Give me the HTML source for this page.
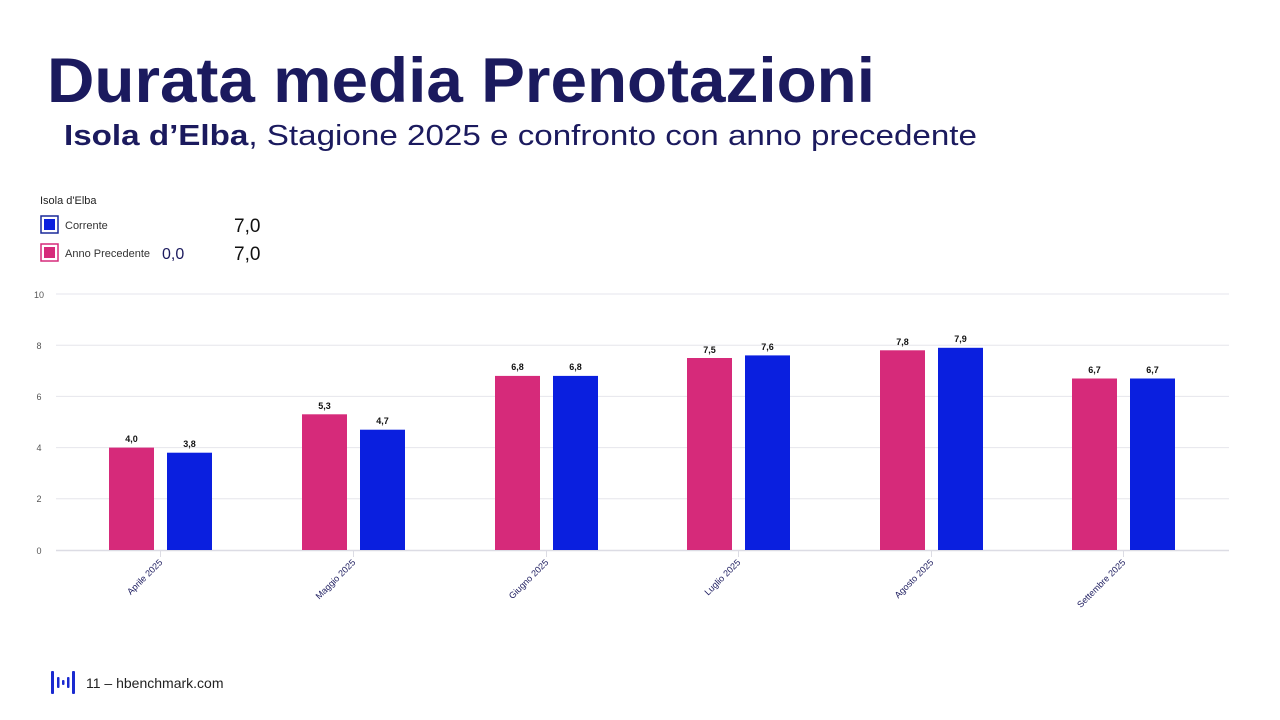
<!DOCTYPE html>
<html><head><meta charset="utf-8"><style>
html,body{margin:0;padding:0;background:#fff;}
svg{display:block;font-family:"Liberation Sans",sans-serif;}
</style></head><body>
<svg width="1280" height="720" viewBox="0 0 1280 720" xmlns="http://www.w3.org/2000/svg">
<rect width="1280" height="720" fill="#fff"/>
<text x="47" y="102" font-size="63" font-weight="bold" fill="#1b1a5e" textLength="828" lengthAdjust="spacingAndGlyphs">Durata media Prenotazioni</text>
<text x="64" y="145" font-size="29" fill="#1b1a5e" textLength="913" lengthAdjust="spacingAndGlyphs"><tspan font-weight="bold">Isola d’Elba</tspan>, Stagione 2025 e confronto con anno precedente</text>
<!-- legend -->
<text x="40" y="204" font-size="11" fill="#222">Isola d'Elba</text>
<rect x="41" y="216" width="17" height="17" fill="none" stroke="#1a2a9a" stroke-width="1.5"/>
<rect x="44" y="219" width="11" height="11" fill="#0a1fdf"/>
<text x="65" y="229" font-size="11" fill="#333">Corrente</text>
<rect x="41" y="244" width="17" height="17" fill="none" stroke="#d62a7a" stroke-width="1.5"/>
<rect x="44" y="247" width="11" height="11" fill="#d62a7a"/>
<text x="65" y="257" font-size="11" fill="#333">Anno Precedente</text>
<text x="162" y="259" font-size="16" fill="#1b1a5e">0,0</text>
<text x="234" y="232" font-size="19" fill="#111">7,0</text>
<text x="234" y="260" font-size="19" fill="#111">7,0</text>
<!-- grid -->
<g stroke="#e6e6ec" stroke-width="1">
<line x1="56" y1="294" x2="1229" y2="294"/>
<line x1="56" y1="345.2" x2="1229" y2="345.2"/>
<line x1="56" y1="396.4" x2="1229" y2="396.4"/>
<line x1="56" y1="447.6" x2="1229" y2="447.6"/>
<line x1="56" y1="498.8" x2="1229" y2="498.8"/>
<line x1="56" y1="550.5" x2="1229" y2="550.5" stroke="#dcdce4" stroke-width="1.5"/>
</g>
<g font-size="9" fill="#555" text-anchor="middle">
<text x="39" y="298">10</text><text x="39" y="349">8</text><text x="39" y="400">6</text>
<text x="39" y="451">4</text><text x="39" y="502">2</text><text x="39" y="554">0</text>
</g>
<g id="bars">
<!-- scale 25.6 px/unit, base 550 -->
<rect x="109" y="447.6" width="45" height="102.4" fill="#d62a7a"/>
<rect x="167" y="452.7" width="45" height="97.3" fill="#0a1fdf"/>
<rect x="302" y="414.3" width="45" height="135.7" fill="#d62a7a"/>
<rect x="360" y="429.7" width="45" height="120.3" fill="#0a1fdf"/>
<rect x="495" y="375.9" width="45" height="174.1" fill="#d62a7a"/>
<rect x="553" y="375.9" width="45" height="174.1" fill="#0a1fdf"/>
<rect x="687" y="358" width="45" height="192" fill="#d62a7a"/>
<rect x="745" y="355.4" width="45" height="194.6" fill="#0a1fdf"/>
<rect x="880" y="350.3" width="45" height="199.7" fill="#d62a7a"/>
<rect x="938" y="347.8" width="45" height="202.2" fill="#0a1fdf"/>
<rect x="1072" y="378.5" width="45" height="171.5" fill="#d62a7a"/>
<rect x="1130" y="378.5" width="45" height="171.5" fill="#0a1fdf"/>
</g>
<g font-size="9" font-weight="bold" fill="#111" text-anchor="middle">
<text x="131.5" y="442">4,0</text><text x="189.5" y="447">3,8</text>
<text x="324.5" y="409">5,3</text><text x="382.5" y="424">4,7</text>
<text x="517.5" y="370">6,8</text><text x="575.5" y="370">6,8</text>
<text x="709.5" y="353">7,5</text><text x="767.5" y="350">7,6</text>
<text x="902.5" y="345">7,8</text><text x="960.5" y="342">7,9</text>
<text x="1094.5" y="373">6,7</text><text x="1152.5" y="373">6,7</text>
</g>
<g stroke="#dcdce4" stroke-width="1">
<line x1="160.5" y1="551" x2="160.5" y2="557"/><line x1="353.5" y1="551" x2="353.5" y2="557"/>
<line x1="546.5" y1="551" x2="546.5" y2="557"/><line x1="738.5" y1="551" x2="738.5" y2="557"/>
<line x1="931.5" y1="551" x2="931.5" y2="557"/><line x1="1123.5" y1="551" x2="1123.5" y2="557"/>
</g>
<g font-size="9" fill="#1b1a5e" text-anchor="end">
<text transform="translate(163,563) rotate(-45)">Aprile 2025</text>
<text transform="translate(356,563) rotate(-45)">Maggio 2025</text>
<text transform="translate(549,563) rotate(-45)">Giugno 2025</text>
<text transform="translate(741,563) rotate(-45)">Luglio 2025</text>
<text transform="translate(934,563) rotate(-45)">Agosto 2025</text>
<text transform="translate(1126,563) rotate(-45)">Settembre 2025</text>
</g>
<!-- footer logo -->
<g fill="#1a2ad0">
<rect x="51" y="671" width="3" height="23" rx="1"/>
<rect x="57" y="677" width="2.5" height="11" rx="1"/>
<rect x="62" y="680" width="2.5" height="5" rx="1"/>
<rect x="67" y="677" width="2.5" height="11" rx="1"/>
<rect x="72" y="671" width="3" height="23" rx="1"/>
</g>
<text x="86" y="688" font-size="14" fill="#222">11 – hbenchmark.com</text>
</svg>
</body></html>
